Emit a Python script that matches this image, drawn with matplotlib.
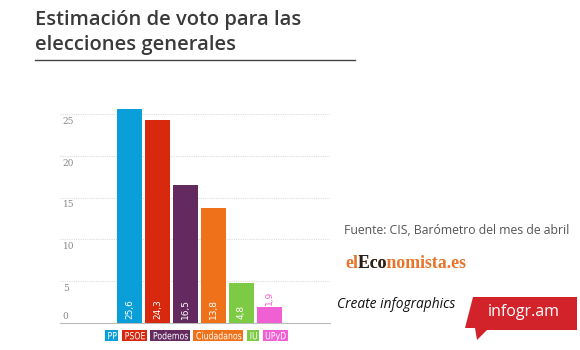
import matplotlib
matplotlib.use("Agg")
import matplotlib.pyplot as plt
from matplotlib.patches import Polygon, Rectangle, PathPatch
from matplotlib.textpath import TextPath
from matplotlib.font_manager import FontProperties
from matplotlib.transforms import Affine2D, Bbox

# datos
partidos = ["PP", "PSOE", "Podemos", "Ciudadanos", "IU", "UPyD"]
votos = [25.6, 24.3, 16.5, 13.8, 4.8, 1.9]
etiquetas = ["25,6", "24,3", "16,5", "13,8", "4,8", "1,9"]
colores = ["#0a9fd9", "#d8290f", "#622a5f", "#ef7119", "#7dcb45", "#f060d2"]
yticks = [0, 5, 10, 15, 20, 25]

W, H = 580, 350
fig = plt.figure(figsize=(W / 100, H / 100), dpi=100)
plt.rcParams['font.family'] = ['Open Sans', 'DejaVu Sans']

def px(x, y):
    return x / W, 1 - y / H

# texto estrecho (comprimido en horizontal), en pixeles
fp = FontProperties(family="DejaVu Sans")
SX = 0.78
def texto_estrecho(s, x, y, size, color):
    tp = TextPath((0, 0), s, size=size, prop=fp)
    tr = Affine2D().scale(SX, 1).translate(x, H - y)
    fig.add_artist(PathPatch(tp, transform=tr, fc=color, ec="none", lw=0, zorder=5))

# titulo
fig.text(*px(35, 20), "Estimación de voto para las", fontsize=14.5, weight="semibold",
         color="#3a3a3a", va="center", ha="left")
fig.text(*px(35, 45), "elecciones generales", fontsize=14.5, weight="semibold",
         color="#3a3a3a", va="center", ha="left")
fig.add_artist(plt.Line2D([35 / W, 355 / W], [1 - 59.5 / H] * 2, color="#444", lw=1))

# grafico de barras
ax = fig.add_axes([60 / W, 27 / H, 270 / W, (323 - 97.3) / H])
x = list(range(len(partidos)))
ax.bar(x, votos, width=0.89, color=colores, zorder=3)
ax.set_xlim(-2.48, 7.16)
ax.set_ylim(0, 27)
for s in ["top", "left", "right"]:
    ax.spines[s].set_visible(False)
ax.spines["bottom"].set_color("#bbbbbb")
ax.set_xticks([])
ax.set_yticks([])
for t in yticks:
    if t > 0:
        ax.axhline(t, color="#dddddd", lw=0.8, ls=(0, (1, 1)), zorder=1)
        ax.annotate(str(t), (0.01, t), xycoords=("axes fraction", "data"),
                    xytext=(0, -2), textcoords="offset points", va="top", ha="left",
                    fontsize=6.5, color="#888888", family="DejaVu Serif")
    else:
        ax.annotate(str(t), (0.01, t), xycoords=("axes fraction", "data"),
                    xytext=(0, 1.5), textcoords="offset points", va="bottom", ha="left",
                    fontsize=6.5, color="#888888", family="DejaVu Serif")

for i, (v, lab) in enumerate(zip(votos, etiquetas)):
    if v > 3:
        ax.text(i, 0.5, lab, rotation=90, ha="center", va="bottom", color="white",
                fontsize=6.5, family="DejaVu Sans", zorder=4)
    else:
        ax.text(i, v + 0.3, lab, rotation=90, ha="center", va="bottom", color=colores[i],
                fontsize=6.5, family="DejaVu Sans", zorder=4)

# leyenda
xpos = 105
for nombre, c in zip(partidos, colores):
    tp = TextPath((0, 0), nombre, size=10, prop=fp)
    ancho = tp.get_extents().width * SX
    fig.add_artist(Rectangle((xpos, H - 341), ancho + 5, 11, fc=c, ec="none",
                             transform=None, zorder=4))
    texto_estrecho(nombre, xpos + 2.5, 339.3, 10, "white")
    xpos += ancho + 5 + 3.8

# fuente y logos
fig.text(*px(344, 230), "Fuente: CIS, Barómetro del mes de abril", fontsize=8.8,
         color="#555555", va="center", ha="left")
logo = dict(fontsize=12.8, weight="bold", va="baseline", ha="left", family="Liberation Serif")
fig.canvas.draw()
r = fig.canvas.get_renderer()
m1 = fig.text(0, 0, "el", **logo)
m2 = fig.text(0, 0, "elEco", **logo)
a1 = m1.get_window_extent(r).width
a2 = m2.get_window_extent(r).width
m1.remove()
m2.remove()
fig.text(345 / W, 1 - 268 / H, "elEconomista.es", color="#e8732a", **logo)
negro = fig.text(345 / W, 1 - 268 / H, "elEconomista.es", color="#222222", **logo)
negro.set_clip_box(Bbox([[345 + a1 + 0.5, 0], [345 + a2 + 0.3, H]]))
negro.set_clip_on(True)

fig.text(*px(337, 305), "Create infographics", fontsize=9.9, style="italic",
         color="#111111", va="center", ha="left")
forma = [(473, 297), (577, 297), (577, 330), (487, 330), (477, 340), (475, 328), (465, 328)]
fig.add_artist(Polygon([px(a, b) for a, b in forma], closed=True, fc="#d2232a", ec="none",
                       transform=fig.transFigure))
fig.text(*px(524, 312), "infogr.am", fontsize=11.5, color="white", va="center", ha="center")

fig.savefig("out.png", dpi=100)
